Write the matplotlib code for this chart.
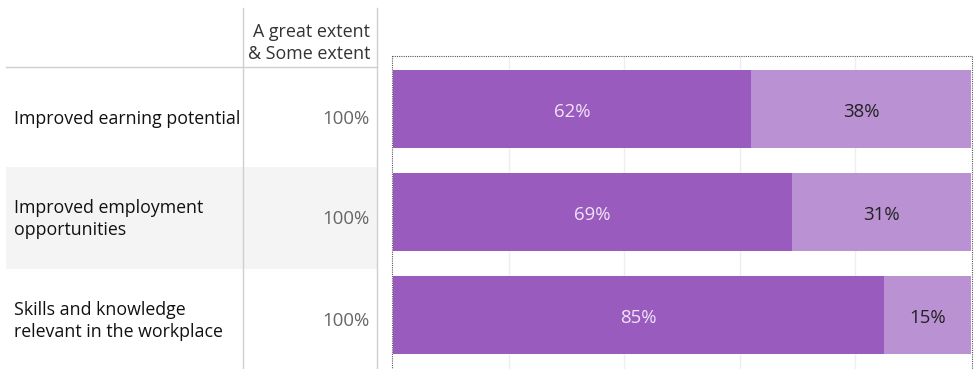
import matplotlib
matplotlib.use("Agg")
import matplotlib.pyplot as plt
from matplotlib.patches import Rectangle

categories = ["Improved earning potential",
              "Improved employment\nopportunities",
              "Skills and knowledge\nrelevant in the workplace"]
total_labels = ["100%", "100%", "100%"]
great_extent = [62, 69, 85]
some_extent = [38, 31, 15]
header = "A great extent\n& Some extent"

W, H = 975, 369
plt.rcParams['font.family'] = ['Open Sans', 'DejaVu Sans']
fig = plt.figure(figsize=(W / 100, H / 100), dpi=100)

bg = fig.add_axes([0, 0, 1, 1])
bg.set_xlim(0, W)
bg.set_ylim(H, 0)
bg.axis('off')

row_top = [67, 167, 269]
row_bot = [167, 269, 369]
bg.add_patch(Rectangle((6, row_top[1]), 371, row_bot[1] - row_top[1],
                       facecolor='#F4F4F4', edgecolor='none', zorder=0))
bg.plot([243, 243], [8, H], color='#CFCFCF', lw=1, zorder=1)
bg.plot([377, 377], [8, H], color='#CFCFCF', lw=1, zorder=1)
bg.plot([6, 377], [67, 67], color='#CFCFCF', lw=1, zorder=1)

bg.text(370, 43, header, ha='right', va='center', fontsize=12.9,
        color='#333333', linespacing=1.3)
label_y = [119, 219, 321]
for i, (cat, tot) in enumerate(zip(categories, total_labels)):
    yc = label_y[i]
    bg.text(14, yc, cat, ha='left', va='center', fontsize=12.8,
            color='#111111', linespacing=1.32)
    bg.text(370, yc, tot, ha='right', va='center', fontsize=13.4,
            color='#666666')

bg.add_patch(Rectangle((392, 56), 580, 318, facecolor='none',
                       edgecolor='#555555', lw=0.8, linestyle=(0, (1, 1)),
                       zorder=5))

x0, x1 = 393, 971
ax = fig.add_axes([x0 / W, 0, (x1 - x0) / W, (H - 57) / H])
ax.set_xlim(0, 100)
ax.set_ylim((H - 109) / 103, -(109 - 57) / 103)
for s in ax.spines.values():
    s.set_visible(False)
ax.set_xticks([])
ax.set_yticks([])
ax.patch.set_alpha(0)
for g in [20, 40, 60, 80]:
    ax.axvline(g, color='#EEEEEE', lw=1, zorder=0)

ys = list(range(len(categories)))
dark = '#9A5BBE'
light = '#BA91D2'
ax.barh(ys, great_extent, height=0.76, color=dark, zorder=2)
ax.barh(ys, some_extent, left=great_extent, height=0.76, color=light, zorder=2)
for y, a, b in zip(ys, great_extent, some_extent):
    ax.text(a / 2, y + 0.03, f"{a}%", ha='center', va='center', fontsize=13.4,
            color='#F0E4F6', zorder=3)
    ax.text(a + b / 2, y + 0.03, f"{b}%", ha='center', va='center', fontsize=13.4,
            color='#222222', zorder=3)

fig.savefig("out.png", dpi=100)
